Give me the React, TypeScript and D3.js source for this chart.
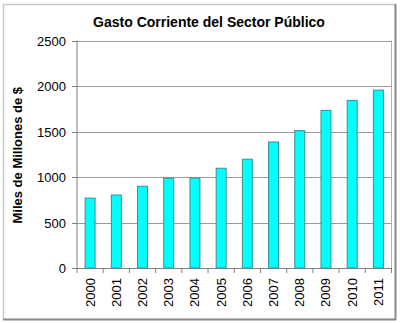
import React from "react";
import * as d3 from "d3";

const years = ["2000","2001","2002","2003","2004","2005","2006","2007","2008","2009","2010","2011"];
const values = [768, 802, 898, 986, 988, 1096, 1195, 1385, 1510, 1732, 1842, 1955];
const yTicks = [0, 500, 1000, 1500, 2000, 2500];

export default function App() {
  const W = 400, H = 323;
  const left = 77, right = 391.5, top = 40.5, bottom = 268;
  const x = d3.scaleBand<string>().domain(years).range([left, right]).paddingInner(0.62).paddingOuter(0.31);
  const xb = d3.scaleBand<string>().domain(years).range([left, right]);
  const y = d3.scaleLinear().domain([0, 2500]).range([bottom, top]);
  const font = "Arial, 'Liberation Sans', sans-serif";
  return (
    <svg width={W} height={H} style={{ position: "absolute", left: 0, top: 0 }}>
      <rect x={0} y={0} width={W} height={H} fill="#fff" />
      <line x1={3.5} y1={4} x2={3.5} y2={320} stroke="#c8c8c8" strokeWidth={1.5} />
      <line x1={3} y1={4.5} x2={396} y2={4.5} stroke="#c8c8c8" strokeWidth={1.5} />
      <line x1={395.5} y1={4} x2={395.5} y2={320} stroke="#8a8a8a" strokeWidth={2} />
      <line x1={3} y1={319.5} x2={396} y2={319.5} stroke="#8a8a8a" strokeWidth={2} />
      <text x={209} y={27} textAnchor="middle" fontFamily={font} fontWeight="bold" fontSize={14}>
        Gasto Corriente del Sector Público
      </text>
      <text transform={`translate(22,${(top + bottom) / 2 + 1}) rotate(-90)`} textAnchor="middle" fontFamily={font} fontWeight="bold" fontSize={13}>
        Miles de Millones de $
      </text>
      {yTicks.map((t) => (
        <g key={t}>
          {t > 0 && <line x1={left} x2={right} y1={Math.round(y(t)) + 0.5} y2={Math.round(y(t)) + 0.5} stroke="#9a9a9a" />}
          <line x1={72} x2={left} y1={Math.round(y(t)) + 0.5} y2={Math.round(y(t)) + 0.5} stroke="#808080" />
          <text x={66} y={y(t) + 5} textAnchor="end" fontFamily={font} fontSize={13} fill="#000">{t}</text>
        </g>
      ))}
      <line x1={right} x2={right} y1={top} y2={bottom} stroke="#b0b0b0" />
      {years.map((yr, i) => (
        <rect key={yr} x={x(yr)!} y={y(values[i])} width={x.bandwidth()} height={bottom - y(values[i])}
          fill="#00ffff" stroke="#3a8f8f" strokeWidth={1} />
      ))}
      <line x1={left} x2={left} y1={top} y2={bottom + 0.5} stroke="#808080" />
      <line x1={left} x2={right} y1={bottom + 0.5} y2={bottom + 0.5} stroke="#808080" />
      {years.map((yr) => (
        <line key={"t" + yr} x1={xb(yr)! + xb.bandwidth()} x2={xb(yr)! + xb.bandwidth()} y1={bottom} y2={bottom + 5} stroke="#808080" />
      ))}
      <line x1={left} x2={left} y1={bottom} y2={bottom + 5} stroke="#808080" />
      {years.map((yr) => (
        <text key={"l" + yr} transform={`translate(${xb(yr)! + xb.bandwidth() / 2 + 4.5},278) rotate(-90)`}
          textAnchor="end" fontFamily={font} fontSize={13} fill="#000">{yr}</text>
      ))}
    </svg>
  );
}
